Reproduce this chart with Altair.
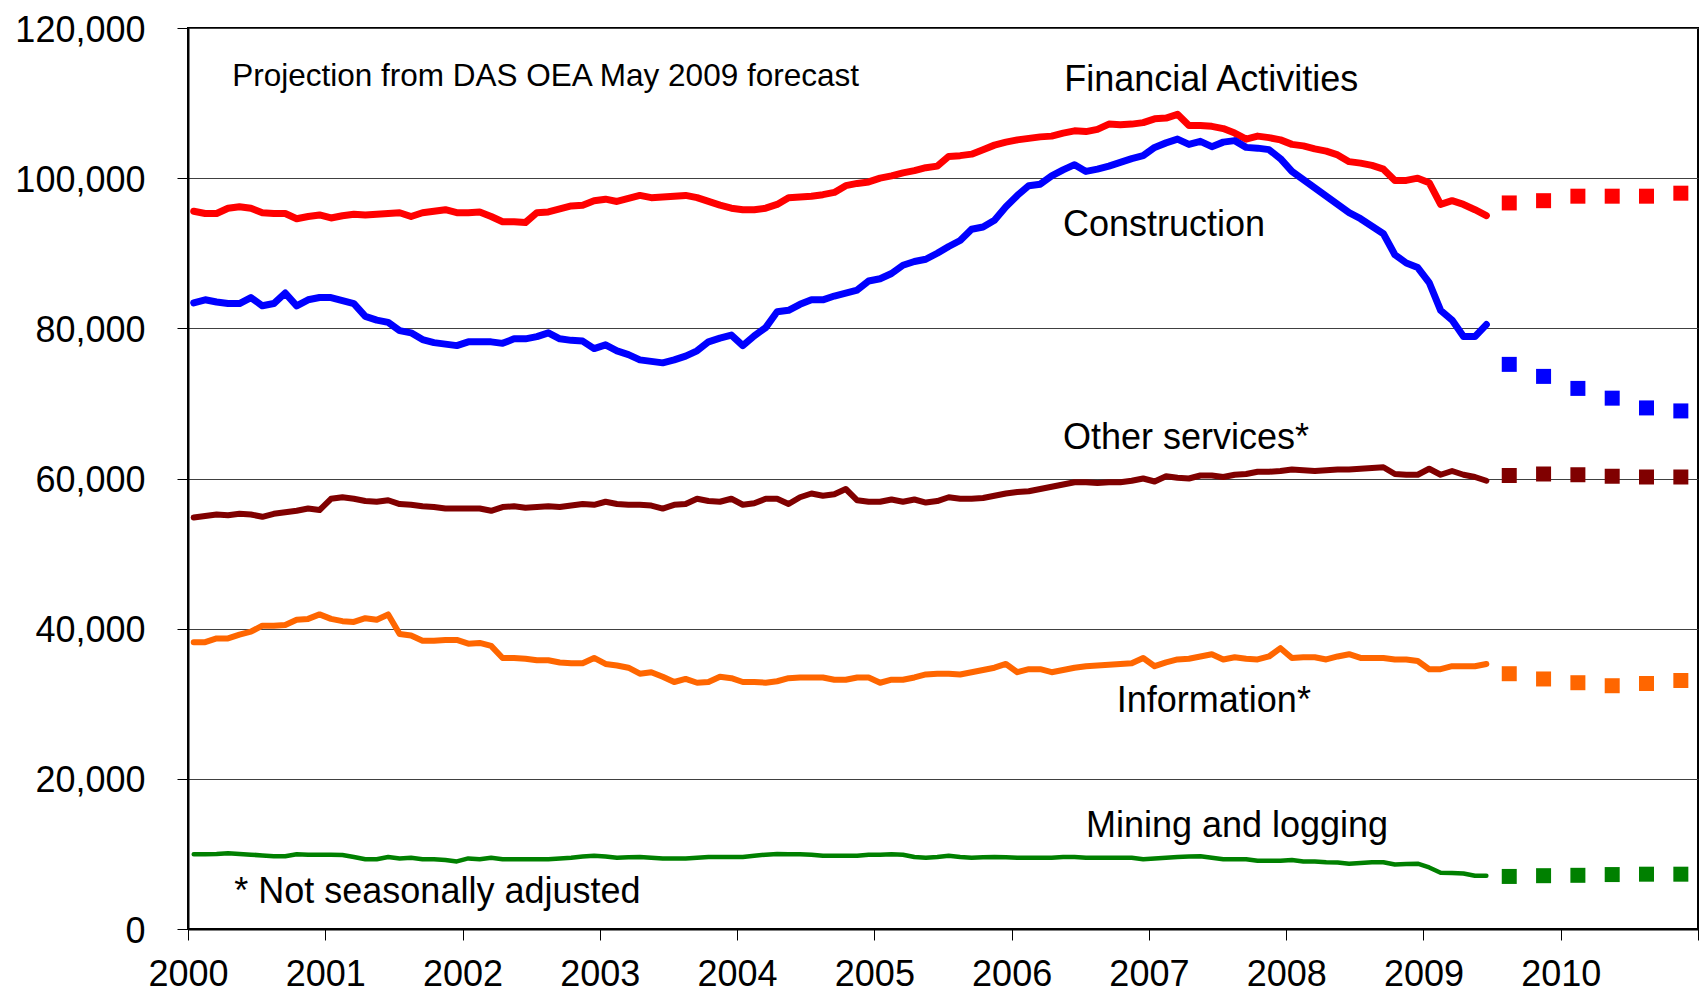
import altair as alt
import pandas as pd

# Monthly employment, Jan 2000 - Jun 2009 (thousands)
fin = [95.6, 95.3, 95.3, 96.0, 96.2, 96.0, 95.4, 95.3, 95.3, 94.6, 94.9, 95.1,
       94.7, 95.0, 95.2, 95.1, 95.2, 95.3, 95.4, 94.9, 95.4, 95.6, 95.8, 95.4,
       95.4, 95.5, 94.9, 94.2, 94.2, 94.1, 95.4, 95.5, 95.9, 96.3, 96.4, 97.0,
       97.2, 96.9, 97.3, 97.7, 97.4, 97.5, 97.6, 97.7, 97.4, 96.9, 96.4, 96.0,
       95.8, 95.8, 96.0, 96.5, 97.4, 97.5, 97.6, 97.8, 98.1, 99.0, 99.3, 99.5,
       100.0, 100.3, 100.7, 101.0, 101.4, 101.6, 102.9, 103.0, 103.2, 103.8, 104.4, 104.8,
       105.1, 105.3, 105.5, 105.6, 106.0, 106.3, 106.2, 106.5, 107.2, 107.1, 107.2, 107.4,
       107.9, 108.0, 108.5, 107.0, 107.0, 106.9, 106.6, 106.0, 105.2, 105.6, 105.4, 105.1,
       104.5, 104.3, 103.9, 103.6, 103.1, 102.2, 102.0, 101.7, 101.2, 99.7, 99.7, 100.0,
       99.4, 96.5, 97.0, 96.5, 95.8, 95.0]
con = [83.4, 83.8, 83.5, 83.3, 83.3, 84.1, 83.0, 83.3, 84.7, 83.0, 83.8, 84.1,
       84.1, 83.7, 83.3, 81.6, 81.1, 80.8, 79.7, 79.4, 78.5, 78.1, 77.9, 77.7,
       78.2, 78.2, 78.2, 78.0, 78.6, 78.6, 78.9, 79.4, 78.6, 78.4, 78.3, 77.3,
       77.8, 77.0, 76.5, 75.8, 75.6, 75.4, 75.8, 76.3, 77.0, 78.2, 78.7, 79.1,
       77.7, 79.0, 80.1, 82.2, 82.4, 83.2, 83.8, 83.8, 84.3, 84.7, 85.1, 86.3,
       86.6, 87.3, 88.4, 88.9, 89.2, 90.0, 90.9, 91.7, 93.2, 93.5, 94.4, 96.2,
       97.7, 99.0, 99.2, 100.3, 101.1, 101.8, 100.9, 101.2, 101.6, 102.1, 102.6, 103.0,
       104.1, 104.7, 105.2, 104.5, 104.9, 104.2, 104.8, 105.0, 104.1, 104.0, 103.8, 102.6,
       100.9, 99.8, 98.7, 97.6, 96.5, 95.4, 94.6, 93.6, 92.6, 89.8, 88.7, 88.1,
       86.1, 82.4, 81.1, 78.9, 78.9, 80.5]
oth = [54.8, 55.0, 55.2, 55.1, 55.3, 55.2, 54.9, 55.3, 55.5, 55.7, 56.0, 55.8,
       57.3, 57.5, 57.3, 57.0, 56.9, 57.1, 56.6, 56.5, 56.3, 56.2, 56.0, 56.0,
       56.0, 56.0, 55.7, 56.2, 56.3, 56.1, 56.2, 56.3, 56.2, 56.4, 56.6, 56.5,
       56.9, 56.6, 56.5, 56.5, 56.4, 56.0, 56.5, 56.6, 57.3, 57.0, 56.9, 57.3,
       56.5, 56.7, 57.3, 57.3, 56.6, 57.5, 58.0, 57.7, 57.9, 58.6, 57.1, 56.9,
       56.9, 57.2, 56.9, 57.2, 56.8, 57.0, 57.5, 57.3, 57.3, 57.4, 57.7, 58.0,
       58.2, 58.3, 58.6, 58.9, 59.2, 59.5, 59.5, 59.4, 59.5, 59.5, 59.7, 60.0,
       59.6, 60.3, 60.1, 60.0, 60.4, 60.4, 60.2, 60.5, 60.6, 60.9, 60.9, 61.0,
       61.2, 61.1, 61.0, 61.1, 61.2, 61.2, 61.3, 61.4, 61.5, 60.6, 60.5, 60.5,
       61.3, 60.5, 61.0, 60.5, 60.2, 59.7]
inf = [38.2, 38.2, 38.7, 38.7, 39.2, 39.6, 40.4, 40.4, 40.5, 41.2, 41.3, 41.9,
       41.3, 41.0, 40.9, 41.4, 41.2, 41.9, 39.3, 39.1, 38.4, 38.4, 38.5, 38.5,
       38.0, 38.1, 37.7, 36.1, 36.1, 36.0, 35.8, 35.8, 35.5, 35.4, 35.4, 36.1,
       35.3, 35.1, 34.8, 34.0, 34.2, 33.6, 32.9, 33.3, 32.8, 32.9, 33.6, 33.4,
       32.9, 32.9, 32.8, 33.0, 33.4, 33.5, 33.5, 33.5, 33.2, 33.2, 33.5, 33.5,
       32.8, 33.2, 33.2, 33.5, 33.9, 34.0, 34.0, 33.9, 34.2, 34.5, 34.8, 35.3,
       34.2, 34.6, 34.6, 34.2, 34.5, 34.8, 35.0, 35.1, 35.2, 35.3, 35.4, 36.1,
       35.0, 35.5, 35.9, 36.0, 36.3, 36.6, 35.9, 36.2, 36.0, 35.9, 36.3, 37.4,
       36.1, 36.2, 36.2, 35.9, 36.3, 36.6, 36.1, 36.1, 36.1, 35.9, 35.9, 35.7,
       34.6, 34.6, 35.0, 35.0, 35.0, 35.3]
mng = [9.95, 9.95, 10.0, 10.1, 10.0, 9.9, 9.8, 9.7, 9.7, 9.95, 9.9, 9.9,
       9.9, 9.85, 9.6, 9.3, 9.3, 9.6, 9.4, 9.5, 9.3, 9.3, 9.2, 9.0,
       9.4, 9.3, 9.5, 9.3, 9.3, 9.3, 9.3, 9.3, 9.4, 9.5, 9.65, 9.75,
       9.65, 9.5, 9.55, 9.6, 9.5, 9.4, 9.4, 9.4, 9.5, 9.6, 9.6, 9.6,
       9.6, 9.75, 9.9, 10.0, 9.95, 9.95, 9.9, 9.75, 9.75, 9.75, 9.75, 9.9,
       9.9, 9.95, 9.9, 9.6, 9.5, 9.6, 9.75, 9.6, 9.5, 9.55, 9.6, 9.55,
       9.5, 9.5, 9.5, 9.5, 9.6, 9.6, 9.5, 9.5, 9.5, 9.5, 9.5, 9.3,
       9.4, 9.5, 9.6, 9.65, 9.7, 9.5, 9.3, 9.3, 9.3, 9.1, 9.1, 9.1,
       9.2, 9.0, 9.0, 8.9, 8.85, 8.7, 8.8, 8.9, 8.9, 8.6, 8.65, 8.7,
       8.2, 7.5, 7.45, 7.4, 7.1, 7.1]

# Projection (DAS OEA May 2009), months after Jan 2000: Aug09, Nov09, Feb10, May10, Aug10, Nov10
proj_months = [115, 118, 121, 124, 127, 130]
fin_proj = [96.7, 97.0, 97.6, 97.6, 97.6, 98.0]
con_proj = [75.2, 73.6, 72.0, 70.7, 69.4, 69.0]
oth_proj = [60.4, 60.6, 60.5, 60.3, 60.2, 60.2]
inf_proj = [34.0, 33.3, 32.8, 32.4, 32.7, 33.1]
mng_proj = [7.0, 7.1, 7.15, 7.25, 7.3, 7.3]

names = ["Financial Activities", "Construction", "Other services*", "Information*", "Mining and logging"]
actuals = [fin, con, oth, inf, mng]
projs = [fin_proj, con_proj, oth_proj, inf_proj, mng_proj]

# Annotations
label_text = ["Projection from DAS OEA May 2009 forecast", "Financial Activities", "Construction",
              "Other services*", "Information*", "Mining and logging", "* Not seasonally adjusted"]
label_x = [2000.322, 2006.383, 2006.374, 2006.374, 2006.766, 2006.541, 2000.337]
label_y = [112300, 111550, 92300, 63900, 28950, 12230, 3410]

x_ticks = list(range(2000, 2012))
y_ticks = [0, 20000, 40000, 60000, 80000, 100000, 120000]

# styles
colors = ["#FF0000", "#0000FF", "#800000", "#FF6600", "#008000"]
widths = [7, 7, 6, 6, 4.5]
label_sizes = [31.5, 36, 36, 36, 36, 36, 36]
FONT = "Liberation Sans"

xs = alt.Scale(domain=[2000, 2011], nice=False, zero=False)
ys = alt.Scale(domain=[0, 120000], nice=False)
x_axis = alt.Axis(values=x_ticks, format="d", labelExpr="datum.value == 2011 ? '' : datum.label",
                  labelFont=FONT, labelFontSize=36, labelColor="black", labelPadding=17,
                  labelFlush=False, labelOverlap=False, tickSize=11, tickColor="black", tickWidth=1,
                  domainColor="black", domainWidth=2, grid=False, title=None)
y_axis = alt.Axis(values=y_ticks, format=",d", labelFont=FONT, labelFontSize=36, labelColor="black",
                  labelPadding=32, labelOffset=2, labelFlush=False, labelOverlap=False, tickSize=11,
                  tickColor="black", tickWidth=1, domainColor="black", domainWidth=2, grid=True,
                  gridColor="#404040", gridWidth=1, title=None)

layers = []
for name, vals, pv, col, w in zip(names, actuals, projs, colors, widths):
    df = pd.DataFrame({"t": [2000 + (i + 0.5) / 12 for i in range(len(vals))],
                       "v": [v * 1000 for v in vals]})
    layers.append(alt.Chart(df).mark_line(color=col, strokeWidth=w, strokeCap="round",
                                          strokeJoin="round").encode(
        x=alt.X("t:Q", scale=xs, axis=x_axis), y=alt.Y("v:Q", scale=ys, axis=y_axis)))
    dp = pd.DataFrame({"t": [2000 + (m + 0.5) / 12 for m in proj_months],
                       "v": [v * 1000 for v in pv]})
    layers.append(alt.Chart(dp).mark_square(color=col, size=225, opacity=1, filled=True).encode(
        x=alt.X("t:Q", scale=xs, axis=x_axis), y=alt.Y("v:Q", scale=ys, axis=y_axis)))

dl = pd.DataFrame({"t": label_x, "v": label_y, "txt": label_text, "fs": label_sizes})
layers.append(alt.Chart(dl).mark_text(align="left", baseline="alphabetic", font=FONT, color="black").encode(
    x=alt.X("t:Q", scale=xs, axis=x_axis), y=alt.Y("v:Q", scale=ys, axis=y_axis),
    text="txt:N", size=alt.Size("fs:Q", scale=None, legend=None)))

chart = alt.layer(*layers).properties(
    width=1510, height=901,
    autosize=alt.AutoSizeParams(type="none"),
    padding={"left": 180, "top": 20, "right": 1, "bottom": 65},
    background="white",
).configure_view(stroke="black", strokeWidth=2)

chart.save("out.html", embed_options={"renderer": "svg", "actions": False})
